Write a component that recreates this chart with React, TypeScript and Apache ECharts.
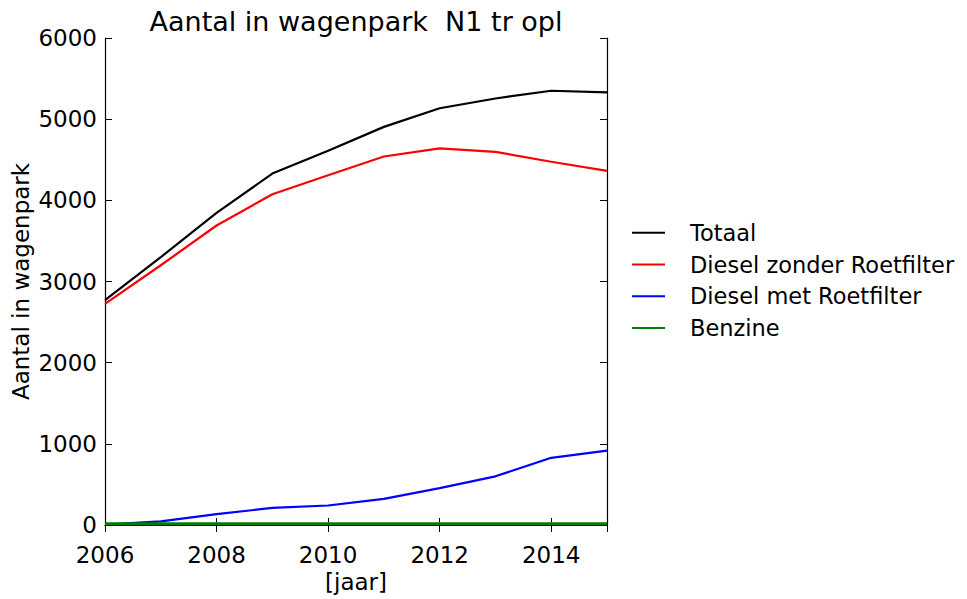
import React, { useEffect, useRef } from "react";
import * as echarts from "echarts";

const years = [2006, 2007, 2008, 2009, 2010, 2011, 2012, 2013, 2014, 2015];
const totaal = [2770, 3300, 3845, 4330, 4610, 4905, 5135, 5255, 5350, 5330];
const dieselZonder = [2725, 3200, 3690, 4075, 4310, 4540, 4640, 4598, 4475, 4362];
const dieselMet = [5, 45, 135, 210, 240, 322, 455, 600, 828, 916];
const benzine = [15, 15, 15, 15, 15, 15, 15, 15, 15, 15];

const seriesNames = ["Totaal", "Diesel zonder Roetfilter", "Diesel met Roetfilter", "Benzine"];
const seriesColors = ["#000000", "#ff0000", "#0000ff", "#008000"];
const seriesData = [totaal, dieselZonder, dieselMet, benzine];

const FONT = "DejaVu Sans";
const FS = 23;

export default function App() {
  const ref = useRef<HTMLDivElement>(null);
  useEffect(() => {
    document.body.style.margin = "0";
    if (!ref.current) return;
    const chart = echarts.init(ref.current, undefined, { renderer: "svg" });
    const fmt = (v: number) => String(v);
    const tickStyle = { show: true, inside: true, length: 7, lineStyle: { color: "#000", width: 1 } };
    chart.setOption({
      animation: false,
      backgroundColor: "#ffffff",
      title: {
        text: "Aantal in wagenpark  N1 tr opl",
        left: 351,
        top: 3,
        textAlign: "center",
        textStyle: { fontFamily: FONT, fontSize: 27, fontWeight: "normal", color: "#000" },
      },
      legend: {
        orient: "vertical",
        left: 627,
        top: 216,
        padding: 5,
        icon: "rect",
        itemWidth: 33,
        itemHeight: 2,
        itemGap: 8,
        data: seriesNames,
        textStyle: {
          fontFamily: FONT,
          fontSize: 22.5,
          color: "#000",
          lineHeight: 23.7,
          padding: [0, 0, 0, 20],
        },
      },
      grid: {
        left: 105,
        right: 360,
        top: 38,
        bottom: 74,
        containLabel: false,
        outerBoundsMode: "none",
      },
      xAxis: [
        {
          type: "value",
          min: 2006,
          max: 2015,
          interval: 2,
          name: "[jaar]",
          nameLocation: "middle",
          nameGap: 45,
          nameMoveOverlap: false,
          nameTextStyle: { fontFamily: FONT, fontSize: FS, color: "#000" },
          axisLine: { show: true, lineStyle: { color: "#000", width: 1.2 } },
          axisTick: tickStyle,
          axisLabel: {
            formatter: fmt,
            fontFamily: FONT,
            fontSize: FS,
            color: "#000",
            margin: 18,
            showMaxLabel: false,
          },
          splitLine: { show: false },
        },
        {
          type: "value",
          position: "top",
          min: 2006,
          max: 2015,
          interval: 2,
          axisLine: { show: true, lineStyle: { color: "#000", width: 1.2 } },
          axisTick: tickStyle,
          axisLabel: { show: false },
          splitLine: { show: false },
        },
      ],
      yAxis: [
        {
          type: "value",
          min: 0,
          max: 6000,
          interval: 1000,
          name: "Aantal in wagenpark",
          nameLocation: "middle",
          nameGap: 73,
          nameMoveOverlap: false,
          nameTextStyle: { fontFamily: FONT, fontSize: FS, color: "#000" },
          axisLine: { show: true, lineStyle: { color: "#000", width: 1.2 } },
          axisTick: tickStyle,
          axisLabel: { formatter: fmt, fontFamily: FONT, fontSize: FS, color: "#000", margin: 8 },
          splitLine: { show: false },
        },
        {
          type: "value",
          position: "right",
          min: 0,
          max: 6000,
          interval: 1000,
          axisLine: { show: true, lineStyle: { color: "#000", width: 1.2 } },
          axisTick: tickStyle,
          axisLabel: { show: false },
          splitLine: { show: false },
        },
      ],
      series: seriesNames.map((name, i) => ({
        name,
        type: "line",
        xAxisIndex: 0,
        yAxisIndex: 0,
        data: years.map((y, j) => [y, seriesData[i][j]]),
        showSymbol: false,
        symbol: "none",
        color: seriesColors[i],
        lineStyle: { color: seriesColors[i], width: i === 3 ? 3 : 2.2 },
        z: 2 + (i === 3 ? 1 : 0),
      })),
    });
    return () => chart.dispose();
  }, []);
  return <div ref={ref} style={{ width: 967, height: 599 }} />;
}
